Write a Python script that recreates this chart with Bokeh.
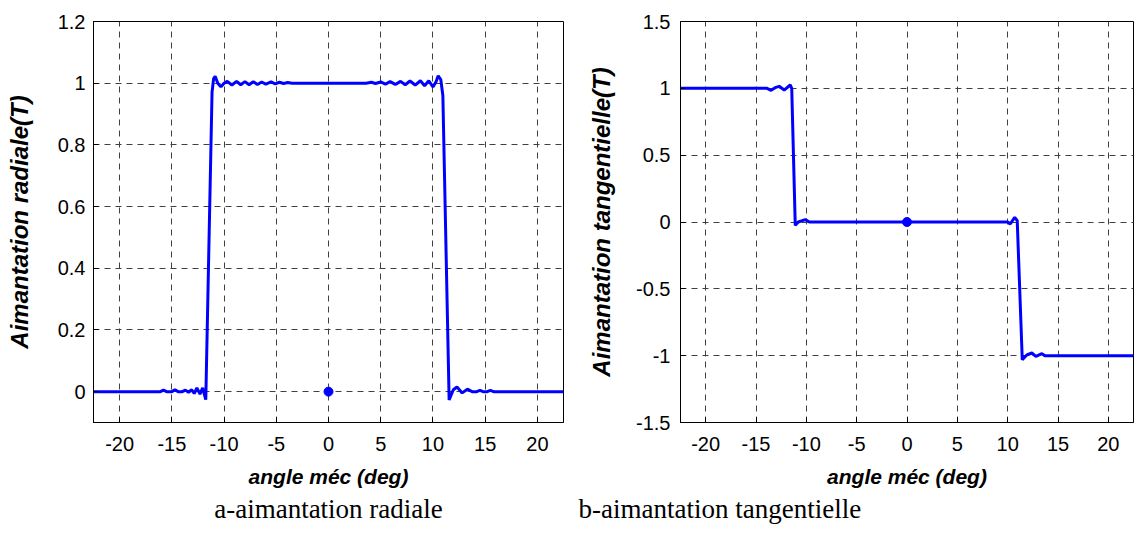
from bokeh.plotting import figure
from bokeh.layouts import row
from bokeh.models import FixedTicker, Title
from bokeh.embed import file_html
from bokeh.resources import INLINE

# ---- data ----
x_ticks = [-20, -15, -10, -5, 0, 5, 10, 15, 20]
x_tick_labels = ["-20", "-15", "-10", "-5", "0", "5", "10", "15", "20"]

rad_y_ticks = [0, 0.2, 0.4, 0.6, 0.8, 1, 1.2]
rad_y_tick_labels = ["0", "0.2", "0.4", "0.6", "0.8", "1", "1.2"]

tan_y_ticks = [-1.5, -1, -0.5, 0, 0.5, 1, 1.5]
tan_y_tick_labels = ["-1.5", "-1", "-0.5", "0", "0.5", "1", "1.5"]

angle_rad = [-22.5, -16.1, -15.8, -15.5, -15.0, -14.7, -14.4, -14.0, -13.7, -13.4,
             -13.1, -12.85, -12.6, -12.3, -12.05, -11.75, -11.15, -11.0, -10.85, -10.6,
             -10.3, -10.0, -9.7, -9.25, -8.8, -8.4, -8.0, -7.6, -7.2, -6.8,
             -6.4, -6.0, -5.5, -5.1, -4.7, -4.3, -3.9, -3.5, 3.6, 4.1,
             4.5, 5.0, 5.45, 5.9, 6.4, 6.9, 7.35, 7.8, 8.3, 8.8,
             9.2, 9.6, 10.0, 10.3, 10.5, 10.75, 10.95, 11.55, 11.95, 12.3,
             12.8, 13.3, 13.75, 14.2, 14.5, 14.8, 15.2, 15.5, 15.8, 22.5]
mag_rad = [0, 0, 0.005, 0, 0, 0.006, 0, 0, 0.005, -0.002,
           0.006, -0.006, 0.012, -0.008, 0.012, -0.026, 0.97, 1.015, 1.022, 1.0,
           0.988, 1.0, 1.006, 0.994, 1.006, 0.995, 1.005, 0.995, 1.005, 0.996,
           1.004, 0.997, 1.004, 0.998, 1.003, 0.999, 1.002, 1.0, 1.0, 1.003,
           0.999, 1.004, 0.997, 1.005, 0.996, 1.006, 0.995, 1.007, 0.994, 1.008,
           0.992, 1.008, 0.988, 1.005, 1.024, 1.012, 0.96, -0.027, 0.006, 0.015,
           -0.004, 0.008, 0, 0, 0.004, 0, 0, 0.004, 0, 0]

angle_tan = [-22.5, -13.9, -13.5, -13.1, -12.7, -12.2, -11.6, -11.45, -11.1, -10.8,
             -10.1, -9.7, 10.0, 10.25, 10.7, 10.95, 11.45, 11.9, 12.4, 12.8,
             13.4, 13.7, 22.5]
mag_tan = [1, 1, 0.985, 1.005, 1.015, 0.987, 1.025, 1.0, -0.025, 0.0,
           0.018, 0, 0, -0.015, 0.035, 0.01, -1.03, -0.995, -0.98, -1.005,
           -0.985, -1.0, -1]

point_x = [0]
point_y = [0]

x_label = "angle méc (deg)"
rad_y_label = "Aimantation radiale(T)"
tan_y_label = "Aimantation tangentielle(T)"
caption_a = "a-aimantation radiale"
caption_b = "b-aimantation tangentielle"

# ---- styling ----
FONT = "Liberation Sans"
BLUE = "#0000FF"
FRAME_TOP = 21
FRAME_H = 401
TOTAL_H = 550


def make_fig(y_range, y_ticks, y_labels, y_label, frame_w, border_left, border_right,
             tick_standoff, ylabel_standoff):
    p = figure(frame_width=frame_w, frame_height=FRAME_H,
               min_border_left=border_left, min_border_right=border_right,
               min_border_top=FRAME_TOP,
               min_border_bottom=TOTAL_H - FRAME_TOP - FRAME_H,
               x_range=(-22.5, 22.5), y_range=y_range,
               output_backend="svg", toolbar_location=None)
    p.background_fill_color = "white"
    p.border_fill_color = "white"
    p.outline_line_color = "black"
    p.outline_line_width = 1
    p.outline_line_alpha = 1

    p.xaxis.ticker = FixedTicker(ticks=x_ticks)
    p.xaxis.major_label_overrides = dict(zip(x_ticks, x_tick_labels))
    p.yaxis.ticker = FixedTicker(ticks=y_ticks)
    p.yaxis.major_label_overrides = dict(zip(y_ticks, y_labels))

    for ax in (p.xaxis[0], p.yaxis[0]):
        ax.axis_line_color = "black"
        ax.major_tick_line_color = "black"
        ax.major_tick_in = 5
        ax.major_tick_out = 0
        ax.minor_tick_line_color = None
        ax.major_label_text_font = FONT
        ax.major_label_text_font_size = "20px"
        ax.major_label_text_color = "black"
        ax.axis_label_text_font = FONT
        ax.axis_label_text_font_style = "bold italic"
        ax.axis_label_text_color = "black"

    p.xaxis.axis_label = x_label
    p.xaxis.axis_label_text_font_size = "21px"
    p.xaxis.major_label_standoff = 14
    p.xaxis.axis_label_standoff = 11

    p.yaxis.axis_label = y_label
    p.yaxis.axis_label_text_font_size = "24px"
    p.yaxis.major_label_standoff = tick_standoff
    p.yaxis.axis_label_standoff = ylabel_standoff

    for g in (p.xgrid[0], p.ygrid[0]):
        g.grid_line_color = "#404040"
        g.grid_line_dash = "6 5"
        g.grid_line_width = 1
        g.grid_line_alpha = 1
    p.xgrid.ticker = FixedTicker(ticks=x_ticks)
    p.ygrid.ticker = FixedTicker(ticks=y_ticks)
    return p


p1 = make_fig((-0.1, 1.2), rad_y_ticks, rad_y_tick_labels, rad_y_label,
              470, 93, 2, 8, 22)
p1.line(angle_rad, mag_rad, line_width=3, color=BLUE)
p1.scatter(point_x, point_y, size=9, color=BLUE)
p1.add_layout(Title(text=caption_a, align="center", text_font="Liberation Serif",
                    text_font_size="27px", text_font_style="normal",
                    text_color="black", standoff=3), "below")

p2 = make_fig((-1.5, 1.5), tan_y_ticks, tan_y_tick_labels, tan_y_label,
              453, 115, 3, 10, 18)
p2.line(angle_tan, mag_tan, line_width=3, color=BLUE)
p2.scatter(point_x, point_y, size=9, color=BLUE)
p2.add_layout(Title(text=caption_b, align="left", offset=-102,
                    text_font="Liberation Serif",
                    text_font_size="27px", text_font_style="normal",
                    text_color="black", standoff=3), "below")

layout = row(p1, p2)
open("out.html", "w").write(file_html(layout, INLINE))
